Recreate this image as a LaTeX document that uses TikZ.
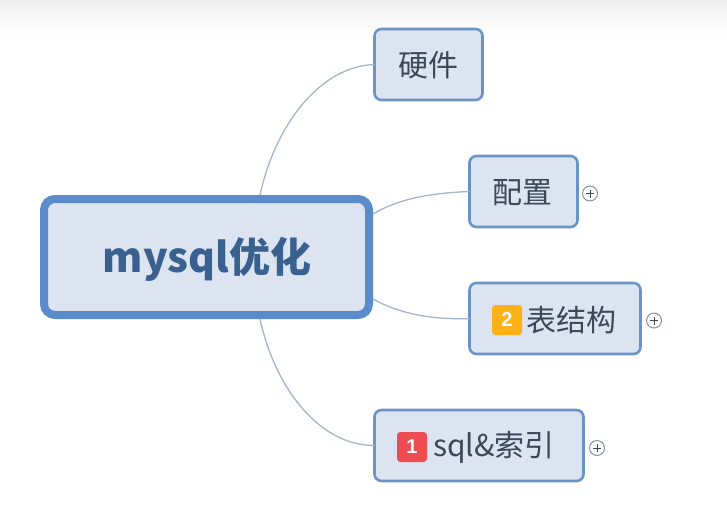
\documentclass[tikz,border=0pt]{standalone}
\usepackage{fontspec}
\setmainfont{Noto Sans CJK SC}
\newfontfamily\latinbadge{Liberation Sans}
\definecolor{boxfill}{HTML}{DCE4F2}
\definecolor{boxline}{HTML}{6A94C6}
\definecolor{rootline}{HTML}{5A8BCA}
\definecolor{roottext}{HTML}{3A608F}
\definecolor{childtext}{HTML}{3A4858}
\definecolor{conn}{HTML}{A3B4CE}
\definecolor{topgrey}{HTML}{EFEFEF}
\definecolor{badgeorange}{HTML}{FBB117}
\definecolor{badgered}{HTML}{EC4C52}
\tikzset{
  x=1pt,y=-1pt,
  rootbox/.style={draw=rootline,fill=boxfill,line width=8pt,rounded corners=11pt,minimum width=325pt,minimum height=116pt,inner sep=0pt,outer sep=0pt},
  roottextstyle/.style={inner sep=0pt,text=roottext,font=\fontsize{41}{41}\selectfont\bfseries},
  childbox/.style={draw=boxline,fill=boxfill,line width=2.6pt,rounded corners=7pt,minimum height=71pt,inner sep=0pt,outer sep=0pt},
  childtextstyle/.style={inner sep=0pt,text=childtext,font=\fontsize{30}{30}\selectfont},
  conline/.style={draw=conn,line width=1.3pt},
  badge/.style={rounded corners=3.5pt,minimum width=30pt,minimum height=30pt,inner sep=0pt,text=white,font=\latinbadge\fontsize{20}{20}\selectfont\bfseries},
  plusmark/.style={circle,draw=childtext!60,fill=white,line width=1pt,minimum size=15pt,inner sep=0pt},
  plusbar/.style={draw=childtext,line width=1pt}
}
\begin{document}
\begin{tikzpicture}
\useasboundingbox (0,0) rectangle (727,528);
\shade[top color=topgrey,bottom color=white] (0,0) rectangle (727,36);
\node[rootbox] (root) at (206.5,257) {};
\node[roottextstyle] (roott) at (207,259) {mysql优化};
\node[childbox,minimum width=108pt] (hw) at (428.5,64.5) {};
\node[childtextstyle] (hwt) at (428.5,65.5) {硬件};
\node[childbox,minimum width=108pt] (cfg) at (523.5,191.5) {};
\node[childtextstyle] (cfgt) at (522.5,192.5) {配置};
\node[childbox,minimum width=171pt] (tbl) at (555,318.5) {};
\node[childbox,minimum width=209pt] (sql) at (479,445.5) {};
\node[badge,fill=badgeorange] (b2) at (507,320) {2};
\node[anchor=west,childtextstyle] (t2) at (526,320.5) {表结构};
\node[badge,fill=badgered] (b1) at (412,447) {1};
\node[anchor=west,childtextstyle] (t1) at (433,447.5) {sql\&索引};
\node[plusmark] (p1) at (590,193.5) {};
\node[plusmark] (p2) at (654,320.5) {};
\node[plusmark] (p3) at (597,448) {};
\foreach \n in {p1,p2,p3}{
  \draw[plusbar] ([xshift=-4pt]\n.center) -- ([xshift=4pt]\n.center);
  \draw[plusbar] ([yshift=-4pt]\n.center) -- ([yshift=4pt]\n.center);
}
\coordinate (r1) at (260,195);
\coordinate (r2) at (373,214);
\coordinate (r3) at (373,299);
\coordinate (r4) at (260,319);
\draw[conline] (r1) .. controls (276,122) and (322,66) .. (hw.west);
\draw[conline] (r2) .. controls (398,199) and (430,193) .. (cfg.west);
\draw[conline] (r3) .. controls (398,313) and (430,320) .. (tbl.west);
\draw[conline] (r4) .. controls (276,392) and (322,446) .. (sql.west);
\end{tikzpicture}
\end{document}
